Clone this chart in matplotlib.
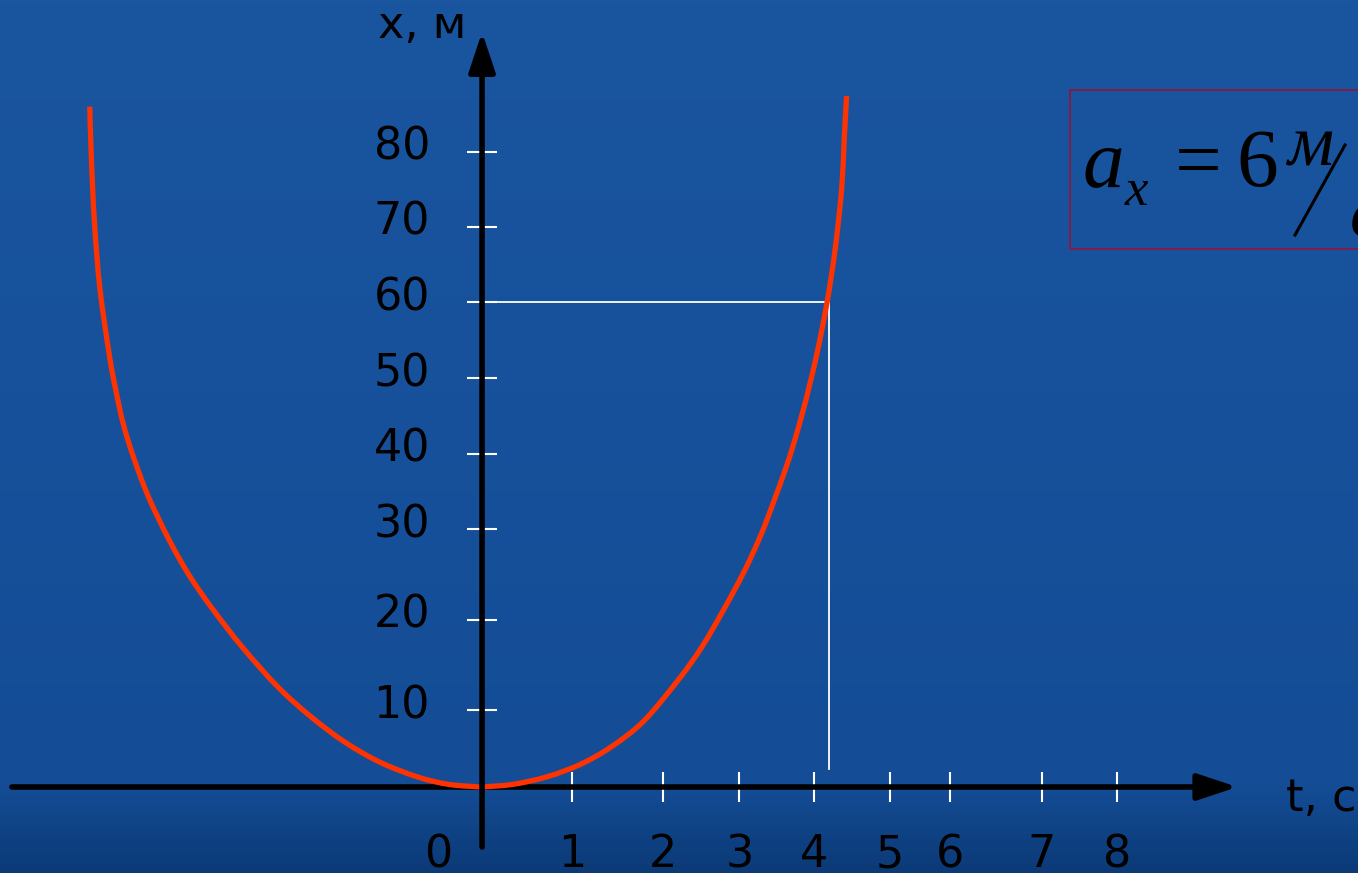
import matplotlib
matplotlib.use("Agg")
import matplotlib.pyplot as plt
import matplotlib.patches as mpatches
from matplotlib.lines import Line2D
from matplotlib.path import Path
import numpy as np

# curve x(t) (t in s, x in m)
t_left = [0.0, -0.41, -0.81, -1.29, -1.73, -2.15, -2.57, -3.02, -3.40, -3.69,
          -3.94, -4.20, -4.39, -4.52, -4.62, -4.69, -4.81, -4.88, -4.92, -4.94]
x_left = [0.0, 0.31, 1.24, 3.09, 5.57, 8.66, 12.37, 17.32, 22.11, 26.23,
          30.56, 35.88, 40.83, 45.0, 49.49, 53.24, 61.49, 69.74, 77.98, 84.16]
t_right = [0.0, 0.39, 0.82, 1.24, 1.63, 2.04, 2.49, 2.77, 3.04, 3.31, 3.52,
           3.68, 3.86, 4.01, 4.14, 4.24, 4.33, 4.39, 4.46, 4.53, 4.56, 4.59]
x_right = [0.0, 0.33, 1.27, 2.81, 4.99, 8.20, 13.49, 17.36, 21.90, 26.85,
           31.39, 35.51, 40.46, 45.40, 50.35, 54.68, 59.19, 62.72, 67.59,
           74.23, 80.04, 85.49]

# marked point (white guide lines)
marked_t = 4.37
marked_x = 60

# the slide's scale is hand drawn, ticks are not evenly spaced
t_tick_pos = [1.13, 2.28, 3.24, 4.18, 5.14, 5.89, 7.05, 8.0]
t_tick_labels = ["1", "2", "3", "4", "5", "6", "7", "8"]
x_tick_pos = [9.5, 20.7, 31.9, 41.2, 50.6, 60.0, 69.3, 78.6]
x_tick_labels = ["10", "20", "30", "40", "50", "60", "70", "80"]


def smooth_path(xs, ys):
    """Bezier path passing through the points (Catmull-Rom style)."""
    pts = np.column_stack([xs, ys])
    verts = [pts[0]]
    codes = [Path.MOVETO]
    n = len(pts)
    for i in range(n - 1):
        p0 = pts[i - 1] if i > 0 else pts[i]
        p1, p2 = pts[i], pts[i + 1]
        p3 = pts[i + 2] if i + 2 < n else pts[i + 1]
        verts += [p1 + (p2 - p0) / 6, p2 - (p3 - p1) / 6, p2]
        codes += [Path.CURVE4] * 3
    return Path(verts, codes)


W, H = 1358, 873
fig = plt.figure(figsize=(W / 100, H / 100), dpi=100)
ax = fig.add_axes([0, 0, 1, 1])
ax.axis("off")

# blue slide background
g = np.linspace(0, 1, 256)
top = np.array([0x1a, 0x55, 0xa0]) / 255
mid = np.array([0x14, 0x4d, 0x96]) / 255
bot = np.array([0x0b, 0x3a, 0x76]) / 255
cols = np.where(g[:, None] < 0.9,
                top + (mid - top) * (g[:, None] / 0.9),
                mid + (bot - mid) * ((g[:, None] - 0.9) / 0.1))
ax.imshow(cols[:, None, :], extent=(0, 1, 0, 1), transform=ax.transAxes,
          aspect="auto", zorder=0)

BLACK = "#000000"
RED = "#ff3300"

# ticks
ax.plot(t_tick_pos, np.zeros(len(t_tick_pos)), ls="none", marker="|",
        ms=21.6, mew=1.5, color="white", zorder=1)
ax.plot(np.zeros(len(x_tick_pos)), x_tick_pos, ls="none", marker="_",
        ms=21.6, mew=1.5, color="white", zorder=1)

# guide lines to the marked point
ax.plot([0, marked_t, marked_t], [marked_x, marked_x, 2.2],
        color="white", lw=1.3, zorder=1)

# axes with arrows, curve between them
arrow = dict(arrowstyle="-|>,head_length=24,head_width=8", lw=4,
             color=BLACK, shrinkA=0, shrinkB=0, mutation_scale=1)
ax.annotate("", xy=(9.51, 0), xytext=(-5.92, 0), arrowprops=arrow, zorder=2)
for ts, xs in [(t_left, x_left), (t_right, x_right)]:
    ax.add_patch(mpatches.PathPatch(smooth_path(ts, xs), fill=False,
                                    edgecolor=RED, lw=3.8, capstyle="butt",
                                    zorder=3))
ax.annotate("", xy=(0, 93.4), xytext=(0, -7.42), arrowprops=arrow, zorder=4)

ax.set_xlim(-6.07, 11.03)
ax.set_ylim(-10.64, 97.37)

fs = 32
for pos, lab in zip(t_tick_pos, t_tick_labels):
    ax.annotate(lab, xy=(pos, 0), xytext=(0, -80), textcoords="offset pixels",
                ha="center", va="baseline", fontsize=fs, color=BLACK)
ax.annotate("0", xy=(0, 0), xytext=(-44, -80), textcoords="offset pixels",
            ha="center", va="baseline", fontsize=fs, color=BLACK)
for pos, lab in zip(x_tick_pos, x_tick_labels):
    ax.annotate(lab, xy=(0, pos), xytext=(-52, -8), textcoords="offset pixels",
                ha="right", va="baseline", fontsize=fs, color=BLACK)

fig.text(378 / W, 1 - 38 / H, "x, м", fontsize=fs, ha="left", va="baseline")
fig.text(1286 / W, 1 - 811 / H, "t, c", fontsize=fs, ha="left", va="baseline")

# formula box a_x = 6 m/s^2 (runs off the right edge)
box = mpatches.Rectangle((1070 / W, 1 - 249 / H), 340 / W, 159 / H,
                         transform=fig.transFigure, fill=False,
                         edgecolor="#8c1840", lw=1.3)
fig.patches.append(box)
serif = "Liberation Serif"
fig.text(1083 / W, 1 - 187 / H, "a", family=serif, style="italic",
         fontsize=60, ha="left", va="baseline")
fig.text(1125 / W, 1 - 205 / H, "x", family=serif, style="italic",
         fontsize=38, ha="left", va="baseline")
fig.text(1198 / W, 1 - 187 / H, "=", family=serif, fontsize=60,
         ha="center", va="baseline")
fig.text(1257 / W, 1 - 186 / H, "6", family=serif, fontsize=60,
         ha="center", va="baseline")
fig.text(1287 / W, 1 - 165 / H, "м", family=serif, style="italic",
         fontsize=52, ha="left", va="baseline")
fig.lines.append(Line2D([1295 / W, 1345 / W], [1 - 235 / H, 1 - 145 / H],
                        transform=fig.transFigure, color=BLACK, lw=2.2))
fig.text(1350 / W, 1 - 236 / H, "с²", family=serif, style="italic",
         fontsize=52, ha="left", va="baseline")

fig.savefig("out.png", dpi=100)
